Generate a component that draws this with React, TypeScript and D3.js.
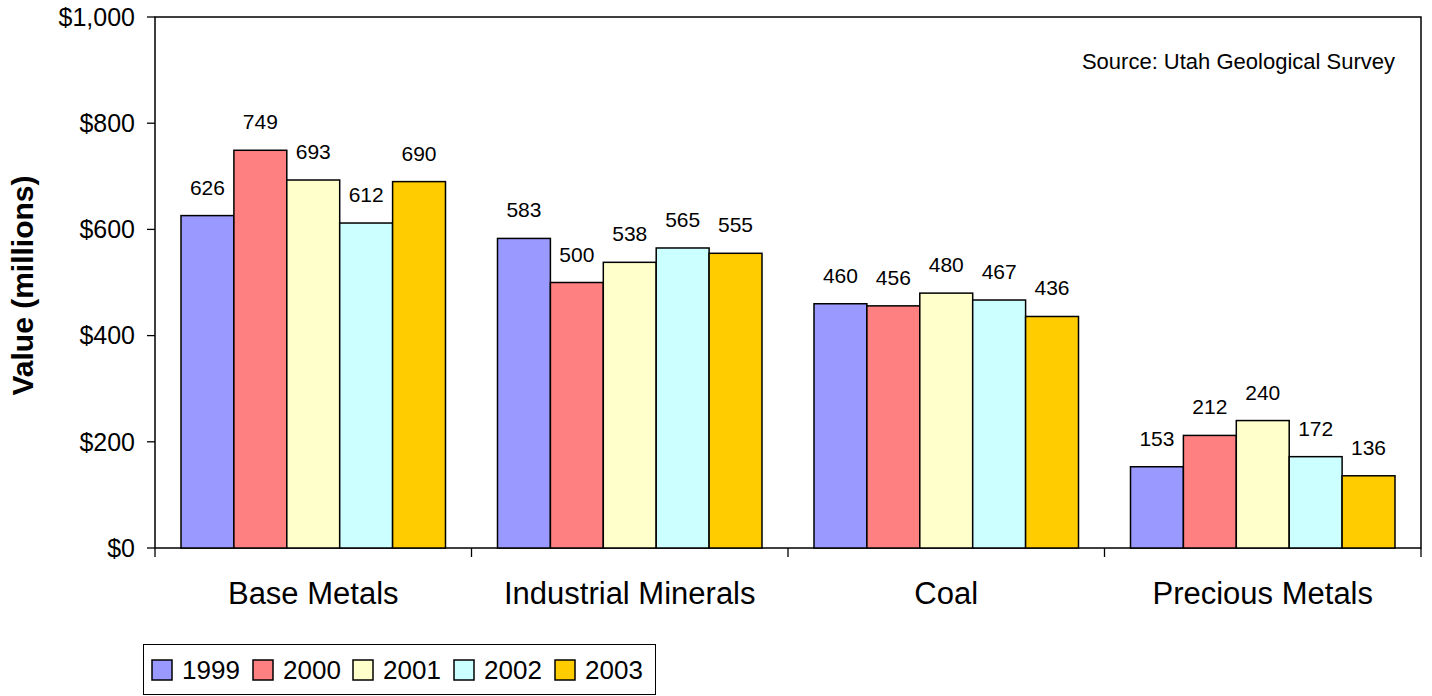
import React from "react";
import * as d3 from "d3";

const categories = ["Base Metals", "Industrial Minerals", "Coal", "Precious Metals"];
const years = ["1999", "2000", "2001", "2002", "2003"];
const v1999 = [626, 583, 460, 153];
const v2000 = [749, 500, 456, 212];
const v2001 = [693, 538, 480, 240];
const v2002 = [612, 565, 467, 172];
const v2003 = [690, 555, 436, 136];
const seriesValues = [v1999, v2000, v2001, v2002, v2003];
const colors = ["#9999FF", "#FF8080", "#FFFFCC", "#CCFFFF", "#FFCC00"];
const yTicks = [0, 200, 400, 600, 800, 1000];

const W = 1432;
const H = 696;
const left = 155;
const right = 1421;
const top = 17;
const bottom = 548;

export default function App() {
  const x0 = d3.scaleBand<string>().domain(categories).range([left, right]).paddingInner(0).paddingOuter(0);
  const groupPad = 26;
  const x1 = d3
    .scaleBand<string>()
    .domain(years)
    .range([groupPad, x0.bandwidth() - groupPad])
    .padding(0);
  const y = d3.scaleLinear().domain([0, 1000]).range([bottom, top]);
  const fmt = (v: number) => "$" + d3.format(",")(v);
  const font = "'Liberation Sans', Arial, sans-serif";

  const boundaries = categories.map((c) => x0(c)!).concat([right]);
  const legendX = [152, 253, 353, 454, 555];

  return (
    <svg
      width={W}
      height={H}
      style={{ position: "absolute", left: 0, top: 0, fontFamily: font }}
    >
      <rect x={0} y={0} width={W} height={H} fill="#fff" />
      {/* plot frame */}
      <rect x={left} y={top} width={right - left} height={bottom - top} fill="#fff" stroke="#000" strokeWidth={1.5} />
      {/* y ticks */}
      {yTicks.map((t) => (
        <g key={t}>
          <line x1={left - 8} x2={left} y1={y(t)} y2={y(t)} stroke="#000" strokeWidth={1.3} />
          <text x={135} y={y(t)} dy="0.35em" textAnchor="end" fontSize={25} fill="#000">
            {fmt(t)}
          </text>
        </g>
      ))}
      {/* x ticks */}
      {boundaries.map((b, i) => (
        <line key={i} x1={b} x2={b} y1={bottom} y2={bottom + 9} stroke="#000" strokeWidth={1.3} />
      ))}
      {/* bars */}
      {categories.map((c, ci) => (
        <g key={c} transform={`translate(${x0(c)},0)`}>
          {years.map((yr, si) => {
            const v = seriesValues[si][ci];
            return (
              <g key={yr}>
                <rect
                  x={x1(yr)!}
                  y={y(v)}
                  width={x1.bandwidth()}
                  height={bottom - y(v)}
                  fill={colors[si]}
                  stroke="#000"
                  strokeWidth={1.5}
                />
                <text
                  x={x1(yr)! + x1.bandwidth() / 2}
                  y={y(v) - 21}
                  textAnchor="middle"
                  fontSize={21}
                  fill="#000"
                >
                  {v}
                </text>
              </g>
            );
          })}
        </g>
      ))}
      {/* category labels */}
      {categories.map((c) => (
        <text
          key={c}
          x={x0(c)! + x0.bandwidth() / 2}
          y={604}
          textAnchor="middle"
          fontSize={31}
          fill="#000"
        >
          {c}
        </text>
      ))}
      {/* y axis title */}
      <text
        transform={`translate(33,${(top + bottom) / 2 + 3}) rotate(-90)`}
        textAnchor="middle"
        fontSize={30}
        fontWeight="bold"
        fill="#000"
      >
        Value (millions)
      </text>
      {/* source */}
      <text x={1395} y={69} textAnchor="end" fontSize={22} fill="#000">
        Source: Utah Geological Survey
      </text>
      {/* legend */}
      <rect x={143.5} y={644.5} width={512} height={50} fill="#fff" stroke="#000" strokeWidth={1} />
      {years.map((yr, i) => {
        const xs = legendX[i];
        return (
          <g key={yr}>
            <rect x={xs} y={660} width={20} height={20} fill={colors[i]} stroke="#000" strokeWidth={1.5} />
            <text x={xs + 30} y={679} fontSize={26} fill="#000">
              {yr}
            </text>
          </g>
        );
      })}
    </svg>
  );
}
